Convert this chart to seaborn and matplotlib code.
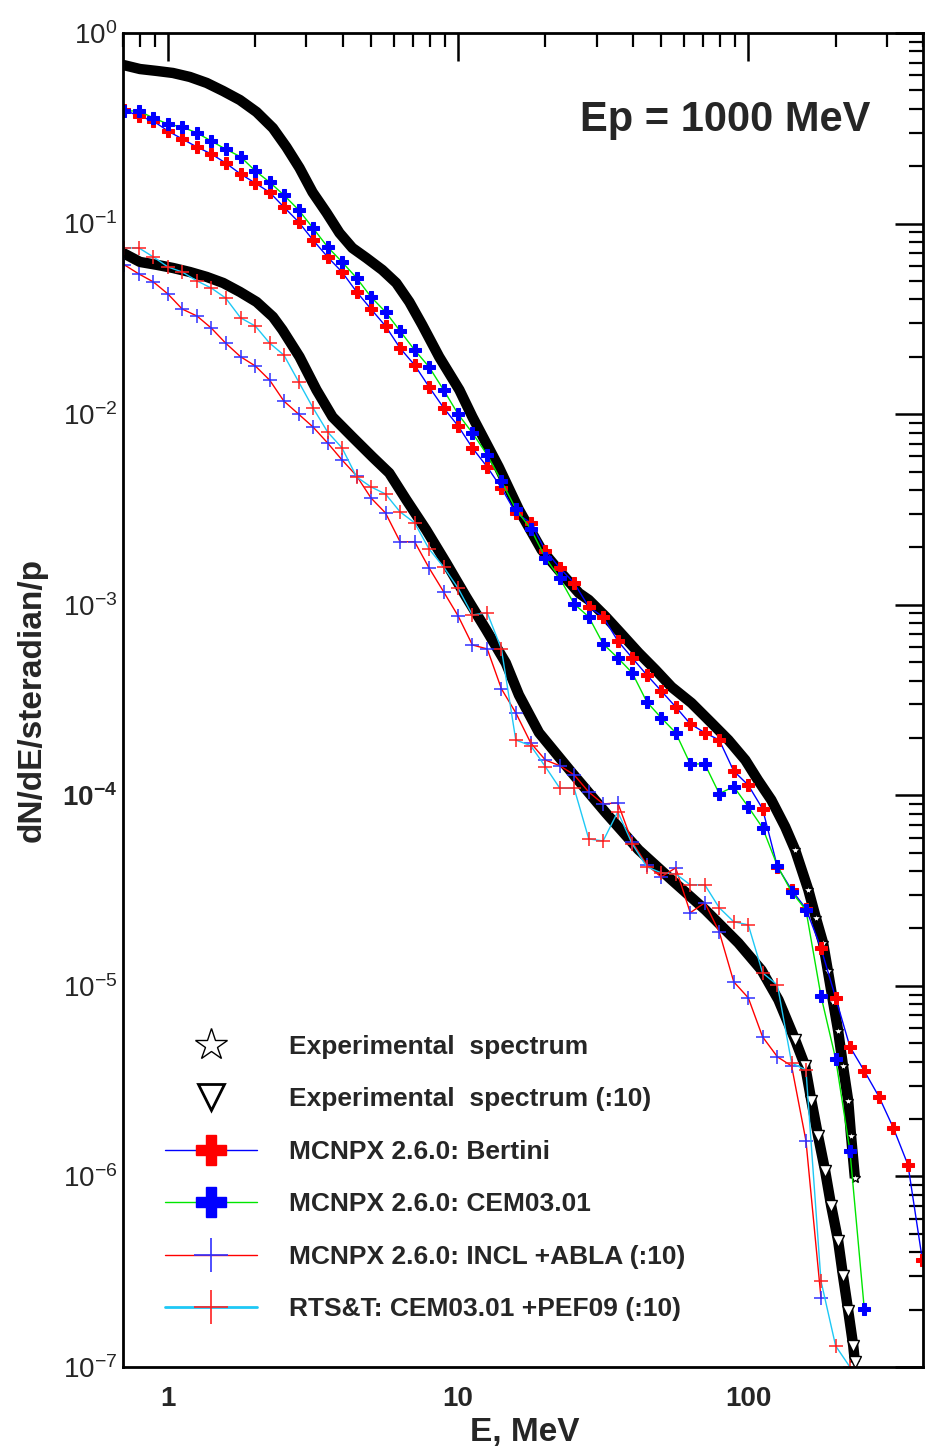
import numpy as np
import pandas as pd
import matplotlib
matplotlib.use("Agg")
import matplotlib.pyplot as plt
import seaborn as sns
from matplotlib.lines import Line2D
from matplotlib.ticker import FixedLocator, FuncFormatter, LogLocator, NullFormatter

# simulation energy grid (20 bins per decade), MeV
E_sim = [0.708, 0.794, 0.891, 1.0, 1.12, 1.26, 1.41, 1.58, 1.78, 2.0,
         2.24, 2.51, 2.82, 3.16, 3.55, 3.98, 4.47, 5.01, 5.62, 6.31,
         7.08, 7.94, 8.91, 10.0, 11.2, 12.6, 14.1, 15.8, 17.8, 20.0,
         22.4, 25.1, 28.2, 31.6, 35.5, 39.8, 44.7, 50.1, 56.2, 63.1,
         70.8, 79.4, 89.1, 100, 112, 126, 141, 158, 178, 200,
         224, 251, 282, 316, 355, 398]

bertini = [0.394, 0.367, 0.345, 0.306, 0.278, 0.252, 0.232, 0.208, 0.182, 0.163,
           0.146, 0.122, 0.102, 0.0820, 0.0668, 0.0557, 0.0438, 0.0356, 0.0290, 0.0222,
           0.0181, 0.0139, 0.0108, 0.00867, 0.00665, 0.00528, 0.00410, 0.00303, 0.00269, 0.00192,
           0.00156, 0.00130, 0.000974, 0.000863, 0.000646, 0.000526, 0.000428, 0.000353, 0.000291, 0.000237,
           0.000213, 0.000195, 0.000134, 0.000113, 8.49e-5, 4.21e-5, 3.19e-5, 2.54e-5, 1.58e-5, 8.65e-6,
           4.79e-6, 3.58e-6, 2.62e-6, 1.80e-6, 1.15e-6, 3.65e-7]

cem = [0.390, 0.390, 0.358, 0.333, 0.321, 0.299, 0.271, 0.246, 0.224, 0.189,
       0.165, 0.141, 0.118, 0.0948, 0.0754, 0.0629, 0.0518, 0.0412, 0.0344, 0.0273,
       0.0217, 0.0177, 0.0134, 0.0100, 0.00797, 0.00611, 0.00446, 0.00318, 0.00250, 0.00176,
       0.00138, 0.00101, 0.000863, 0.000623, 0.000526, 0.000439, 0.000309, 0.000255, 0.000213, 0.000146,
       0.000146, 0.000102, 0.000111, 8.69e-5, 6.75e-5, 4.26e-5, 3.11e-5, 2.50e-5, 8.86e-6, 4.14e-6,
       1.36e-6, 2.02e-7]

incl = [0.0607, 0.0544, 0.0494, 0.0427, 0.0356, 0.0327, 0.0283, 0.0236, 0.0200, 0.0179,
        0.0151, 0.0117, 0.0100, 0.00857, 0.00706, 0.00575, 0.00474, 0.00363, 0.00303, 0.00214,
        0.00214, 0.00156, 0.00117, 0.000873, 0.000615, 0.000586, 0.000362, 0.000271, 0.000188, 0.000153,
        0.000143, 0.000128, 0.000104, 9.01e-5, 9.12e-5, 5.69e-5, 4.31e-5, 3.73e-5, 4.16e-5, 2.42e-5,
        2.73e-5, 1.92e-5, 1.05e-5, 8.65e-6, 5.40e-6, 4.24e-6, 3.80e-6, 1.54e-6, 2.31e-7]

rtst = [0.0745, 0.0745, 0.0668, 0.0592, 0.0557, 0.0500, 0.0459, 0.0407, 0.0320, 0.0290,
        0.0236, 0.0204, 0.0148, 0.0108, 0.00806, 0.00665, 0.00468, 0.00415, 0.00381, 0.00307,
        0.00269, 0.00196, 0.00158, 0.00122, 0.000884, 0.000906, 0.000586, 0.000195, 0.000182, 0.000141,
        0.000109, 0.000109, 5.90e-5, 5.76e-5, 8.18e-5, 5.56e-5, 4.21e-5, 3.92e-5, 3.87e-5, 3.39e-5,
        3.39e-5, 2.57e-5, 2.17e-5, 2.09e-5, 1.17e-5, 1.01e-5, 3.94e-6, 3.62e-6, 2.83e-7, 1.29e-7,
        1.00e-7]

# experimental spectrum
E_exp = [0.700, 0.801, 0.917, 1.04, 1.19, 1.36, 1.55, 1.77, 2.02, 2.30,
         2.56, 2.84, 3.15, 3.52, 3.90, 4.32, 4.83, 5.48, 6.12, 6.79,
         7.52, 8.60, 10.1, 11.2, 13.8, 16.2, 19.4, 22.2, 26.1, 28.2,
         32.3, 36.3, 41.9, 47.9, 54.4, 63.7, 74.6, 85.4, 97.7, 108,
         120, 134, 145, 161, 171, 181, 188, 196, 204, 212,
         221, 226, 233]
exp_spec = [0.680, 0.647, 0.632, 0.617, 0.588, 0.547, 0.496, 0.445, 0.385, 0.317,
            0.252, 0.196, 0.146, 0.114, 0.0893, 0.0745, 0.0660, 0.0571, 0.0488, 0.0388,
            0.0294, 0.0200, 0.0134, 0.00967, 0.00528, 0.00315, 0.00194, 0.00152, 0.00115, 0.00106,
            0.000863, 0.000711, 0.000559, 0.000455, 0.000370, 0.000305, 0.000240, 0.000195, 0.000153, 0.000120,
            9.46e-5, 6.83e-5, 5.17e-5, 3.19e-5, 2.27e-5, 1.68e-5, 1.20e-5, 8.24e-6, 5.81e-6, 3.80e-6,
            2.49e-6, 1.63e-6, 9.8e-7]

# experimental spectrum divided by 10
E_exp10 = [0.700, 0.801, 0.917, 1.04, 1.19, 1.36, 1.55, 1.77, 2.02, 2.30,
           2.48, 2.84, 3.25, 3.69, 4.32, 5.07, 5.79, 6.63, 7.76, 9.09,
           10.65, 12.5, 14.6, 16.2, 19.0, 24.7, 32.3, 41.9, 54.4, 71.2,
           92.4, 111, 127, 145, 157, 165, 174, 184, 193, 204,
           212, 221, 230, 233]
exp_spec10 = [0.0701, 0.0629, 0.0607, 0.0585, 0.0557, 0.0525, 0.0488, 0.0438, 0.0388, 0.0324,
              0.0277, 0.0200, 0.0134, 0.00967, 0.00759, 0.00596, 0.00491, 0.00355, 0.00247, 0.00166,
              0.00110, 0.000738, 0.000495, 0.000336, 0.000213, 0.000131, 8.08e-5, 5.17e-5, 3.60e-5, 2.50e-5,
              1.68e-5, 1.21e-5, 8.45e-6, 5.21e-6, 3.80e-6, 2.49e-6, 1.63e-6, 1.07e-6, 7.01e-7, 4.59e-7,
              3.01e-7, 1.97e-7, 1.29e-7, 1.06e-7]

legend_labels = ["Experimental  spectrum", "Experimental  spectrum (:10)",
                 "MCNPX 2.6.0: Bertini", "MCNPX 2.6.0: CEM03.01",
                 "MCNPX 2.6.0: INCL +ABLA (:10)", "RTS&T: CEM03.01 +PEF09 (:10)"]

sns.set_style("white")
plt.rcParams["font.family"] = ["Liberation Sans", "DejaVu Sans"]
plt.rcParams["mathtext.fontset"] = "custom"
plt.rcParams["mathtext.rm"] = "Liberation Sans"
plt.rcParams["mathtext.bf"] = "Liberation Sans:bold"

fig, ax = plt.subplots(figsize=(9.25, 14.54), dpi=100)
fig.subplots_adjust(left=123 / 925, right=923 / 925, top=1 - 33 / 1454, bottom=1 - 1367 / 1454)
ax.set_xscale("log")
ax.set_yscale("log")

GREEN = "#00e600"
CYAN = "#1ec8f5"

# experimental spectra: thick black band, open markers visible in the tail
for xs, ys, mk in [(E_exp, exp_spec, "*"), (E_exp10, exp_spec10, "v")]:
    sns.lineplot(x=xs, y=ys, ax=ax, color="black", lw=7.5, estimator=None, sort=False,
                 solid_joinstyle="round", solid_capstyle="butt")
    tail = np.array(xs) >= 140
    sns.lineplot(x=np.array(xs)[tail], y=np.array(ys)[tail], ax=ax, color="black", lw=0,
                 marker=mk, markersize=8, markerfacecolor="white", markeredgecolor="black",
                 markeredgewidth=1.0, estimator=None, sort=False)

n = len
sns.lineplot(x=E_sim[:n(bertini)], y=bertini, ax=ax, color="#0000ff", lw=1.0, marker="P",
             markersize=9, markerfacecolor="#ff0000", markeredgecolor="#ff0000", estimator=None)
sns.lineplot(x=E_sim[:n(cem)], y=cem, ax=ax, color=GREEN, lw=1.0, marker="P",
             markersize=9, markerfacecolor="#0000ff", markeredgecolor="#0000ff", estimator=None)
sns.lineplot(x=E_sim[:n(incl)], y=incl, ax=ax, color="#ff0000", lw=1.0, marker="+",
             markersize=10, markeredgecolor="#3030ff", markeredgewidth=1.1, estimator=None)
sns.lineplot(x=E_sim[:n(rtst)], y=rtst, ax=ax, color=CYAN, lw=1.0, marker="+",
             markersize=10, markeredgecolor="#ff2020", markeredgewidth=1.1, estimator=None)

ax.set_xlim(0.7, 400)
ax.set_ylim(1e-7, 1)

# ticks
ax.xaxis.set_major_locator(FixedLocator([1, 10, 100]))
ax.xaxis.set_minor_locator(LogLocator(base=10, subs=np.arange(2, 10), numticks=20))
ax.xaxis.set_major_formatter(FuncFormatter(lambda v, p: "%d" % round(v)))
ax.xaxis.set_minor_formatter(NullFormatter())
ax.yaxis.set_major_locator(FixedLocator([10.0 ** k for k in range(-7, 1)]))
ax.yaxis.set_minor_locator(LogLocator(base=10, subs=np.arange(2, 10), numticks=20))
ax.yaxis.set_major_formatter(FuncFormatter(
    lambda v, p: r"$\mathregular{10^{%d}}$" % round(np.log10(v))))
ax.yaxis.set_minor_formatter(NullFormatter())
ax.tick_params(which="both", direction="in", top=True, right=True, color="black")
ax.tick_params(which="major", length=20, width=1.8)
ax.tick_params(which="minor", length=10, width=1.6)
ax.tick_params(axis="x", which="major", pad=14, labelsize=20)
ax.tick_params(axis="y", which="major", pad=4, labelsize=20)
for lab in ax.get_xticklabels():
    lab.set_fontweight("bold")
for lab in ax.get_yticklabels():
    if "{-4}" in lab.get_text():
        lab.set_fontweight("bold")
for sp in ax.spines.values():
    sp.set_linewidth(2)
    sp.set_color("black")

# legend
handles = [
    Line2D([], [], ls="none", marker="*", ms=24, mfc="white", mec="black", mew=1.0),
    Line2D([], [], ls="none", marker="v", ms=19, mfc="white", mec="black", mew=2.0),
    Line2D([], [], color="#0000ff", lw=1.0, marker="P", ms=22, mfc="#ff0000", mec="#ff0000"),
    Line2D([], [], color=GREEN, lw=1.0, marker="P", ms=22, mfc="#0000ff", mec="#0000ff"),
    Line2D([], [], color="#ff0000", lw=1.0, marker="+", ms=24, mec="#3030ff", mew=1.2),
    Line2D([], [], color=CYAN, lw=2.0, marker="+", ms=24, mec="#ff2020", mew=1.2),
]
ax.legend(handles, legend_labels, loc="upper left", bbox_to_anchor=(0.0525, 0.249),
          frameon=False, prop=dict(weight="bold", size=19), handlelength=3.5,
          handletextpad=1.2, labelspacing=1.08, borderpad=0, borderaxespad=0)

fig.text(870 / 925, 1 - 120 / 1454, "Ep = 1000 MeV", ha="right", va="center",
         fontsize=30, fontweight="bold")
fig.text(32 / 925, 1 - 700 / 1454, "dN/dE/steradian/p", rotation=90, ha="center",
         va="center", fontsize=24, fontweight="bold")
fig.text(525 / 925, 1 - 1433 / 1454, "E, MeV", ha="center", va="center",
         fontsize=24, fontweight="bold")

fig.savefig("out.png", dpi=100)
